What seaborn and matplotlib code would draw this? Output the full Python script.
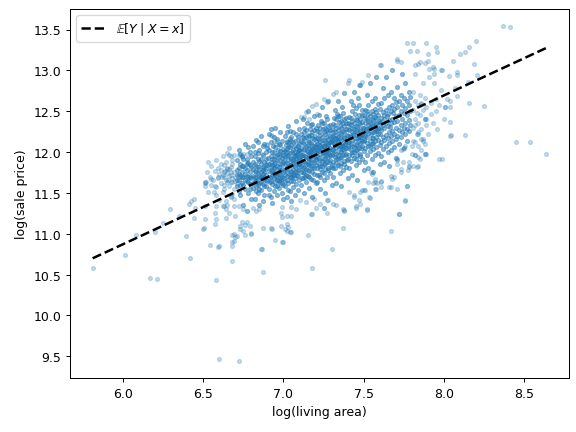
import numpy as np
import pandas as pd
import matplotlib
matplotlib.use("Agg")
import matplotlib.pyplot as plt
from matplotlib.ticker import MultipleLocator
import seaborn as sns

# (log living area, log sale price)
# sparse points around the edge of the cloud
sparse_pairs = [
    (5.81, 10.58), (6.01, 10.74), (6.08, 10.99), (6.17, 10.46), (6.21, 10.45), (6.20, 11.02),
    (6.25, 11.13), (6.29, 11.30), (6.35, 11.22), (6.39, 10.97), (6.42, 10.70), (6.41, 11.37),
    (6.425, 11.405), (6.44, 11.42), (6.45, 11.32), (6.44, 11.19), (6.51, 11.18), (6.50, 11.06),
    (6.505, 11.065), (6.54, 10.86), (6.59, 10.84), (6.595, 10.845), (6.58, 10.44), (6.68, 10.67),
    (6.57, 11.12), (6.58, 11.18), (6.68, 10.99), (6.70, 10.96), (6.71, 10.97), (6.68, 10.90),
    (6.60, 9.47), (6.72, 9.44), (6.86, 10.81), (6.875, 10.53), (6.95, 10.92), (6.99, 10.90),
    (6.995, 10.905), (6.80, 11.01), (6.875, 11.07), (6.92, 11.07), (7.02, 11.04), (7.03, 11.08),
    (7.04, 11.02), (7.15, 10.99), (7.18, 10.58), (7.18, 11.24), (6.76, 11.11), (6.77, 11.15),
    (6.74, 11.14), (6.73, 11.06), (6.70, 11.22), (6.64, 11.19), (6.57, 11.25), (6.63, 11.34),
    (6.51, 11.34), (6.51, 11.63), (6.51, 11.59), (6.565, 11.51), (6.58, 11.34), (6.595, 11.41),
    (6.62, 11.34), (6.55, 11.67), (6.59, 11.68), (6.66, 11.25), (6.64, 11.30), (6.67, 11.63),
    (6.71, 11.61), (6.69, 11.00), (6.76, 10.98), (6.80, 11.00), (6.73, 11.09), (6.75, 11.04),
    (6.79, 11.10), (6.68, 10.85), (6.69, 10.91), (6.81, 11.32), (6.83, 11.28), (6.85, 11.30),
    (6.72, 11.34), (6.75, 11.30), (6.67, 11.46), (6.69, 11.43), (6.69, 11.34), (6.63, 11.55),
    (6.645, 11.63), (6.65, 11.79), (6.66, 11.96), (6.68, 11.86), (6.72, 11.96), (6.75, 11.98),
    (6.90, 12.10), (6.93, 12.20), (6.92, 12.21), (6.90, 12.085), (6.94, 12.14), (6.955, 12.10),
    (6.67, 11.95), (6.74, 11.94), (6.77, 11.98), (6.515, 11.63), (7.02, 12.14), (7.05, 12.14),
    (7.09, 12.16), (6.77, 11.88), (6.865, 11.98), (6.96, 12.14), (7.13, 12.43), (7.16, 12.40),
    (7.21, 12.47), (6.58, 11.57), (6.63, 11.75), (6.645, 11.81),
    (6.51, 11.62), (6.52, 11.75), (6.53, 11.51), (6.54, 11.70), (6.55, 11.83), (6.56, 11.66),
    (6.57, 11.58), (6.57, 11.77), (6.58, 11.90), (6.58, 11.47), (6.59, 11.69), (6.59, 11.81),
    (6.55, 11.60), (6.53, 11.88), (6.60, 11.73),
    (6.61, 11.62), (6.61, 11.78), (6.62, 11.95), (6.62, 11.51), (6.63, 11.70), (6.63, 11.84),
    (6.64, 11.40), (6.64, 11.66), (6.65, 11.74), (6.65, 11.99), (6.66, 11.58), (6.66, 11.71),
    (6.67, 11.82), (6.67, 11.45), (6.68, 11.68), (6.68, 11.90), (6.69, 11.76), (6.69, 11.55),
    (6.62, 11.72), (6.64, 11.88), (6.66, 12.05), (6.68, 11.63), (6.65, 11.35), (6.67, 11.72),
    (6.69, 11.96), (6.63, 11.60), (6.61, 11.86), (6.66, 11.79), (6.68, 11.49), (6.70, 11.70),
    (6.615, 11.70), (6.635, 11.77), (6.655, 11.66), (6.675, 11.76), (6.695, 11.64),
    (7.26, 12.886), (7.325, 12.735), (7.41, 12.886), (7.18, 12.56), (7.095, 12.12),
    (7.60, 13.06), (7.71, 13.12), (7.84, 13.08), (7.53, 12.94), (7.49, 12.86), (7.47, 12.82),
    (7.40, 12.84), (7.31, 12.71), (7.25, 12.65), (7.27, 12.61), (7.20, 12.59), (7.14, 12.49),
    (7.11, 12.43), (7.89, 12.41), (7.84, 12.245), (7.87, 12.14), (7.82, 11.96), (7.745, 12.04),
    (7.78, 11.83), (7.83, 11.815), (7.71, 11.92), (7.73, 11.79), (7.69, 11.69), (7.67, 11.71),
    (7.61, 11.65), (7.57, 11.63), (7.55, 11.73),
    (6.93, 11.06), (6.985, 11.10), (7.02, 11.12), (7.01, 11.06), (7.05, 11.02), (7.30, 10.81),
    (7.37, 11.07), (7.67, 11.03), (6.865, 10.81), (6.99, 11.20), (7.02, 11.22), (7.05, 11.22),
    (6.985, 11.26), (6.99, 11.33), (7.05, 11.325), (7.08, 11.30), (7.105, 11.41), (7.14, 11.39),
    (7.19, 11.43), (7.23, 11.37), (7.25, 11.31), (7.27, 11.41), (7.17, 11.24), (7.31, 11.37),
    (7.37, 11.30), (7.38, 11.28), (7.45, 11.32), (7.47, 11.41), (7.52, 11.30), (7.44, 11.47),
    (7.50, 11.53), (7.535, 11.45), (7.58, 11.55), (7.57, 11.67), (7.61, 11.63), (7.545, 11.75),
    (7.66, 11.57), (7.71, 11.90), (7.71, 11.86), (7.73, 11.75), (7.755, 11.41), (7.77, 11.59),
    (7.72, 11.24), (7.68, 11.67), (7.81, 12.14), (7.84, 12.08), (7.86, 12.16), (7.88, 12.10),
    (7.89, 11.98), (7.84, 11.94), (7.81, 11.83), (7.78, 11.815), (7.90, 12.22), (7.97, 11.915),
    (7.33, 11.35), (7.28, 11.41), (7.20, 11.31), (7.48, 11.36), (7.45, 11.34), (7.44, 11.45),
    (7.38, 11.29), (7.25, 11.31), (7.27, 11.26), (7.41, 11.51), (7.475, 11.51), (7.51, 11.53),
    (7.56, 11.62), (7.585, 11.62), (7.57, 11.545), (7.54, 11.44), (7.52, 11.29), (7.77, 11.58),
    (7.71, 11.545), (7.67, 11.57), (7.755, 11.40), (7.72, 11.24),
    (8.37, 13.545), (8.41, 13.53), (8.64, 11.975), (8.45, 12.12), (8.54, 12.12), (8.25, 12.56),
    (8.16, 12.60), (8.13, 12.21), (8.04, 12.20), (8.045, 12.205), (8.01, 12.55), (8.02, 12.65),
    (8.08, 12.985), (8.08, 12.94), (8.03, 12.93), (8.06, 13.11), (8.10, 13.205), (8.13, 13.22),
    (8.16, 13.29), (8.20, 13.36), (8.19, 13.08), (8.21, 12.94), (8.15, 12.86), (8.07, 12.79),
    (7.99, 13.01), (7.95, 13.29), (7.96, 13.23), (7.89, 13.34), (7.90, 13.205), (7.81, 13.34),
    (7.77, 13.34), (7.79, 13.24), (7.83, 13.24), (8.00, 12.41), (8.04, 12.37), (8.08, 12.69),
    (8.04, 12.63), (7.94, 13.02), (7.94, 12.96), (7.90, 13.12), (7.93, 13.04), (7.71, 13.135),
    (7.73, 13.10), (7.61, 13.07), (7.99, 11.91),
    (7.82, 13.07), (7.85, 13.10), (7.88, 13.095), (7.91, 13.02), (7.985, 13.00), (7.91, 12.92),
    (7.94, 12.84), (7.985, 12.755), (8.005, 12.55), (7.95, 12.65), (7.97, 12.57), (7.92, 12.47),
    (7.86, 12.59), (7.88, 12.41), (7.82, 12.33), (7.84, 12.22), (7.87, 12.16), (7.80, 12.08),
    (7.86, 12.02), (7.82, 11.96), (7.88, 11.98), (7.73, 12.02), (7.78, 11.88), (7.84, 11.83),
    (8.04, 12.55), (7.80, 11.98), (7.85, 11.92), (7.885, 11.98), (7.82, 12.12), (7.755, 12.08),
    (7.745, 11.88), (7.775, 11.775), (7.61, 11.57), (7.525, 11.63), (7.49, 11.53),
    (7.81, 12.30), (7.81, 12.52), (7.81, 12.74), (7.82, 12.40), (7.82, 12.62), (7.82, 12.95),
    (7.83, 12.22), (7.83, 12.48), (7.84, 12.58), (7.84, 12.35), (7.85, 12.70), (7.85, 12.45),
    (7.86, 12.28), (7.86, 12.60), (7.87, 12.52), (7.87, 12.85), (7.88, 12.40), (7.88, 12.66),
    (7.89, 12.55), (7.89, 12.33), (7.92, 12.60), (7.93, 12.36), (7.95, 12.50), (7.96, 12.28),
]

# the dense middle of the cloud, by slices of log living area
dense_pairs = [
    (6.71, 11.72), (6.71, 11.58), (6.71, 11.90), (6.72, 11.66), (6.72, 11.80), (6.72, 12.02),
    (6.73, 11.47), (6.73, 11.71), (6.73, 11.85), (6.74, 11.62), (6.74, 11.76), (6.74, 11.95),
    (6.75, 11.35), (6.75, 11.69), (6.75, 11.83), (6.76, 11.55), (6.76, 11.73), (6.76, 12.10),
    (6.77, 11.64), (6.77, 11.78), (6.77, 11.92), (6.78, 11.50), (6.78, 11.70), (6.78, 11.87),
    (6.79, 11.61), (6.79, 11.75), (6.79, 12.00), (6.80, 11.42), (6.80, 11.68), (6.80, 11.82),
    (6.71, 11.78), (6.72, 11.52), (6.73, 11.98), (6.74, 11.70), (6.75, 11.60), (6.75, 11.91),
    (6.76, 11.80), (6.77, 11.71), (6.77, 11.28), (6.78, 11.63), (6.78, 12.06), (6.79, 11.70),
    (6.79, 11.84), (6.74, 11.83), (6.72, 11.73), (6.76, 11.66), (6.73, 11.60), (6.79, 11.55),
    (6.71, 11.66), (6.77, 11.86),
    (6.81, 11.71), (6.81, 11.56), (6.81, 11.88), (6.81, 12.08), (6.82, 11.64), (6.82, 11.77),
    (6.82, 11.95), (6.82, 11.43), (6.83, 11.70), (6.83, 11.83), (6.83, 12.15), (6.83, 11.59),
    (6.84, 11.50), (6.84, 11.74), (6.84, 11.91), (6.84, 11.66), (6.85, 11.62), (6.85, 11.79),
    (6.85, 12.02), (6.85, 11.35), (6.86, 11.69), (6.86, 11.85), (6.86, 11.54), (6.86, 12.20),
    (6.87, 11.73), (6.87, 11.61), (6.87, 11.96), (6.87, 11.82), (6.88, 11.47), (6.88, 11.67),
    (6.88, 11.88), (6.88, 12.10), (6.89, 11.72), (6.89, 11.58), (6.89, 11.80), (6.89, 12.00),
    (6.81, 11.79), (6.82, 11.70), (6.83, 11.64), (6.84, 11.99), (6.85, 11.71), (6.86, 11.76),
    (6.87, 11.68), (6.88, 11.75), (6.89, 11.92), (6.90, 11.65), (6.90, 11.84), (6.90, 12.05),
    (6.82, 11.86), (6.84, 11.82), (6.86, 11.63), (6.88, 11.59), (6.83, 11.52), (6.85, 11.89),
    (6.87, 12.07), (6.89, 11.66), (6.81, 11.62), (6.84, 12.12), (6.86, 11.92), (6.88, 11.81),
    (6.85, 11.55), (6.87, 11.40), (6.83, 11.75), (6.89, 11.86), (6.82, 12.00), (6.86, 11.70),
    (6.88, 11.69), (6.84, 11.60), (6.80, 11.95), (6.87, 11.78),
    (6.91, 11.70), (6.91, 11.55), (6.91, 11.86), (6.91, 12.03), (6.91, 12.22), (6.92, 11.64),
    (6.92, 11.78), (6.92, 11.95), (6.92, 11.45), (6.92, 12.12), (6.93, 11.72), (6.93, 11.61),
    (6.93, 11.84), (6.93, 12.00), (6.93, 11.38), (6.94, 11.68), (6.94, 11.80), (6.94, 11.91),
    (6.94, 12.18), (6.94, 11.52), (6.95, 11.74), (6.95, 11.63), (6.95, 11.87), (6.95, 12.06),
    (6.95, 12.30), (6.96, 11.58), (6.96, 11.71), (6.96, 11.83), (6.96, 11.97), (6.96, 11.47),
    (6.97, 11.66), (6.97, 11.77), (6.97, 11.90), (6.97, 12.10), (6.97, 11.56), (6.98, 11.72),
    (6.98, 11.85), (6.98, 12.01), (6.98, 11.62), (6.98, 12.25), (6.99, 11.69), (6.99, 11.79),
    (6.99, 11.93), (6.99, 12.14), (6.99, 11.50), (7.00, 11.75), (7.00, 11.88), (7.00, 12.04),
    (7.00, 11.60), (7.00, 11.42), (6.91, 11.77), (6.92, 11.70), (6.93, 11.92), (6.94, 11.74),
    (6.95, 11.81), (6.96, 11.66), (6.97, 11.98), (6.98, 11.78), (6.99, 11.86), (7.00, 11.68),
    (6.915, 11.63), (6.925, 11.88), (6.935, 12.07), (6.945, 11.59), (6.955, 11.69), (6.965, 12.02),
    (6.975, 11.82), (6.985, 11.67), (6.995, 12.00), (6.905, 11.93), (6.92, 12.28), (6.94, 12.00),
    (6.96, 11.90), (6.98, 11.95), (6.93, 11.76), (6.95, 11.95), (6.97, 11.73), (6.99, 11.62),
    (6.91, 11.48), (6.96, 12.16), (6.94, 11.85), (6.98, 12.09), (6.92, 11.82), (7.00, 11.96),
    (6.97, 11.64),
    (7.01, 11.72), (7.01, 11.86), (7.01, 12.01), (7.01, 11.58), (7.01, 12.20), (7.02, 11.66),
    (7.02, 11.80), (7.02, 11.95), (7.02, 12.12), (7.02, 11.45), (7.03, 11.74), (7.03, 11.90),
    (7.03, 12.06), (7.03, 11.62), (7.03, 12.32), (7.04, 11.70), (7.04, 11.84), (7.04, 11.99),
    (7.04, 12.16), (7.04, 11.52), (7.05, 11.77), (7.05, 11.93), (7.05, 12.09), (7.05, 11.64),
    (7.05, 11.40), (7.06, 11.73), (7.06, 11.87), (7.06, 12.03), (7.06, 12.24), (7.06, 11.57),
    (7.07, 11.68), (7.07, 11.82), (7.07, 11.97), (7.07, 12.13), (7.07, 11.48), (7.08, 11.75),
    (7.08, 11.91), (7.08, 12.05), (7.08, 11.61), (7.08, 12.38), (7.09, 11.71), (7.09, 11.85),
    (7.09, 12.00), (7.09, 12.18), (7.09, 11.54), (7.10, 11.79), (7.10, 11.94), (7.10, 12.10),
    (7.10, 11.66), (7.10, 12.28), (7.015, 11.79), (7.025, 12.04), (7.035, 11.83), (7.045, 11.92),
    (7.055, 12.00), (7.065, 11.95), (7.075, 11.89), (7.085, 11.98), (7.095, 11.92), (7.005, 11.90),
    (7.02, 11.87), (7.04, 12.06), (7.06, 11.79), (7.08, 11.84), (7.03, 11.97), (7.05, 11.85),
    (7.07, 12.07), (7.09, 12.08), (7.01, 11.65), (7.06, 11.65), (7.04, 11.76), (7.08, 12.22),
    (7.02, 12.24), (7.10, 11.86), (7.03, 11.53), (7.05, 12.18), (7.07, 11.75), (7.09, 11.78),
    (7.01, 11.95), (7.06, 12.12), (7.045, 11.69), (7.085, 11.72), (7.025, 11.71), (7.065, 11.72),
    (7.095, 12.02), (7.035, 12.12), (7.075, 12.00), (7.055, 11.71), (7.015, 12.09), (7.005, 11.77),
    (7.04, 12.26), (7.08, 11.95), (7.02, 12.00), (7.06, 11.90), (7.10, 12.02),
    (7.11, 11.76), (7.11, 11.90), (7.11, 12.05), (7.11, 12.22), (7.11, 11.60), (7.12, 11.82),
    (7.12, 11.97), (7.12, 12.12), (7.12, 11.68), (7.12, 12.40), (7.13, 11.74), (7.13, 11.88),
    (7.13, 12.02), (7.13, 12.17), (7.13, 11.50), (7.14, 11.79), (7.14, 11.94), (7.14, 12.08),
    (7.14, 12.27), (7.14, 11.63), (7.15, 11.85), (7.15, 12.00), (7.15, 12.14), (7.15, 11.71),
    (7.15, 12.50), (7.16, 11.77), (7.16, 11.91), (7.16, 12.05), (7.16, 12.20), (7.16, 11.56),
    (7.17, 11.83), (7.17, 11.98), (7.17, 12.11), (7.17, 11.67), (7.17, 12.33), (7.18, 11.80),
    (7.18, 11.95), (7.18, 12.09), (7.18, 12.25), (7.18, 11.45), (7.19, 11.87), (7.19, 12.01),
    (7.19, 12.16), (7.19, 11.73), (7.19, 12.44), (7.20, 11.84), (7.20, 11.99), (7.20, 12.13),
    (7.20, 11.62), (7.20, 12.30), (7.115, 11.97), (7.125, 12.04), (7.135, 11.95), (7.145, 12.01),
    (7.155, 11.93), (7.165, 11.99), (7.175, 12.04), (7.185, 12.02), (7.195, 11.94), (7.105, 12.00),
    (7.12, 11.89), (7.14, 11.86), (7.16, 12.12), (7.18, 12.17), (7.13, 12.10), (7.15, 12.07),
    (7.17, 11.90), (7.19, 12.08), (7.11, 12.13), (7.16, 11.84), (7.14, 12.18), (7.18, 11.88),
    (7.12, 11.75), (7.20, 12.06), (7.13, 11.81), (7.15, 11.78), (7.17, 12.21), (7.19, 11.80),
    (7.11, 11.83), (7.16, 11.70), (7.145, 12.36), (7.185, 11.66), (7.125, 12.25), (7.165, 12.28),
    (7.195, 12.20), (7.135, 11.70), (7.175, 11.76), (7.155, 12.21), (7.115, 11.68), (7.105, 11.86),
    (7.14, 11.72), (7.18, 12.34), (7.12, 12.18), (7.16, 11.98), (7.20, 11.92), (7.13, 12.30),
    (7.17, 12.03), (7.15, 11.88), (7.19, 12.27), (7.11, 11.95),
    (7.21, 11.80), (7.21, 11.95), (7.21, 12.10), (7.21, 12.26), (7.21, 11.63), (7.22, 11.86),
    (7.22, 12.01), (7.22, 12.16), (7.22, 11.72), (7.22, 12.45), (7.23, 11.83), (7.23, 11.98),
    (7.23, 12.13), (7.23, 12.30), (7.23, 11.55), (7.24, 11.89), (7.24, 12.04), (7.24, 12.19),
    (7.24, 11.76), (7.24, 12.55), (7.25, 11.85), (7.25, 12.00), (7.25, 12.15), (7.25, 12.35),
    (7.25, 11.66), (7.26, 11.92), (7.26, 12.07), (7.26, 12.22), (7.26, 11.79), (7.26, 11.50),
    (7.27, 11.88), (7.27, 12.03), (7.27, 12.18), (7.27, 12.40), (7.27, 11.70), (7.28, 11.94),
    (7.28, 12.09), (7.28, 12.24), (7.28, 11.81), (7.28, 12.62), (7.29, 11.90), (7.29, 12.05),
    (7.29, 12.20), (7.29, 11.74), (7.29, 12.33), (7.30, 11.97), (7.30, 12.12), (7.30, 12.28),
    (7.30, 11.84), (7.30, 11.60), (7.215, 12.03), (7.225, 12.07), (7.235, 12.05), (7.245, 11.97),
    (7.255, 12.08), (7.265, 12.00), (7.275, 12.10), (7.285, 12.02), (7.295, 12.13), (7.205, 11.90),
    (7.22, 11.93), (7.24, 12.11), (7.26, 11.86), (7.28, 12.16), (7.23, 12.21), (7.25, 11.92),
    (7.27, 12.27), (7.29, 11.97), (7.21, 12.17), (7.26, 12.14), (7.24, 11.83), (7.28, 12.00),
    (7.22, 12.25), (7.30, 12.04), (7.23, 11.90), (7.25, 12.24), (7.27, 11.96), (7.29, 12.27),
    (7.21, 11.72), (7.26, 12.30), (7.245, 12.28), (7.285, 11.88), (7.225, 11.79), (7.265, 12.44),
    (7.295, 11.82), (7.235, 12.38), (7.275, 11.78), (7.255, 11.74), (7.215, 12.33), (7.205, 12.08),
    (7.24, 12.36), (7.28, 12.32), (7.22, 12.09), (7.26, 11.98), (7.30, 12.20), (7.23, 11.70),
    (7.27, 12.11), (7.25, 12.07), (7.29, 12.12), (7.21, 12.02),
    (7.31, 11.88), (7.31, 12.03), (7.31, 12.18), (7.31, 12.34), (7.31, 11.70), (7.32, 11.94),
    (7.32, 12.09), (7.32, 12.24), (7.32, 11.80), (7.32, 12.52), (7.33, 11.91), (7.33, 12.06),
    (7.33, 12.21), (7.33, 12.40), (7.33, 11.62), (7.34, 11.97), (7.34, 12.12), (7.34, 12.27),
    (7.34, 11.84), (7.34, 12.63), (7.35, 11.93), (7.35, 12.08), (7.35, 12.23), (7.35, 12.44),
    (7.35, 11.74), (7.36, 12.00), (7.36, 12.15), (7.36, 12.30), (7.36, 11.87), (7.36, 11.58),
    (7.37, 11.96), (7.37, 12.11), (7.37, 12.26), (7.37, 12.48), (7.37, 11.78), (7.38, 12.02),
    (7.38, 12.17), (7.38, 12.32), (7.38, 11.89), (7.38, 12.72), (7.39, 11.98), (7.39, 12.13),
    (7.39, 12.28), (7.39, 11.82), (7.39, 12.42), (7.40, 12.05), (7.40, 12.20), (7.40, 12.36),
    (7.40, 11.92), (7.40, 11.68), (7.315, 12.11), (7.325, 12.16), (7.335, 12.13), (7.345, 12.05),
    (7.355, 12.17), (7.365, 12.08), (7.375, 12.19), (7.385, 12.10), (7.395, 12.21), (7.305, 11.98),
    (7.32, 12.01), (7.34, 12.19), (7.36, 11.94), (7.38, 12.25), (7.33, 12.29), (7.35, 12.00),
    (7.37, 12.36), (7.39, 12.05), (7.31, 12.25), (7.36, 12.22), (7.34, 11.91), (7.38, 12.09),
    (7.32, 12.33), (7.40, 12.12), (7.33, 11.98), (7.35, 12.32), (7.37, 12.04), (7.39, 12.36),
    (7.31, 11.80), (7.36, 12.38), (7.345, 12.37), (7.385, 11.96), (7.325, 11.87), (7.365, 12.55),
    (7.395, 11.90), (7.335, 12.47), (7.375, 11.86), (7.355, 11.83), (7.315, 12.42), (7.305, 12.15),
    (7.34, 12.44), (7.38, 12.40), (7.32, 12.17), (7.36, 12.06), (7.40, 12.28),
    (7.41, 11.97), (7.41, 12.12), (7.41, 12.27), (7.41, 12.43), (7.41, 11.80), (7.42, 12.03),
    (7.42, 12.18), (7.42, 12.33), (7.42, 11.89), (7.42, 12.62), (7.43, 12.00), (7.43, 12.15),
    (7.43, 12.30), (7.43, 12.50), (7.43, 11.72), (7.44, 12.06), (7.44, 12.21), (7.44, 12.36),
    (7.44, 11.93), (7.44, 12.74), (7.45, 12.02), (7.45, 12.17), (7.45, 12.32), (7.45, 12.54),
    (7.45, 11.84), (7.46, 12.09), (7.46, 12.24), (7.46, 12.39), (7.46, 11.96), (7.46, 11.66),
    (7.47, 12.05), (7.47, 12.20), (7.47, 12.35), (7.47, 12.58), (7.47, 11.88), (7.48, 12.11),
    (7.48, 12.26), (7.48, 12.41), (7.48, 11.98), (7.48, 12.82), (7.49, 12.07), (7.49, 12.22),
    (7.49, 12.37), (7.49, 11.91), (7.49, 12.51), (7.50, 12.14), (7.50, 12.29), (7.50, 12.45),
    (7.50, 12.01), (7.50, 11.78), (7.415, 12.20), (7.425, 12.25), (7.435, 12.22), (7.445, 12.14),
    (7.455, 12.26), (7.465, 12.17), (7.475, 12.28), (7.485, 12.19), (7.495, 12.30), (7.405, 12.07),
    (7.42, 12.10), (7.44, 12.28), (7.46, 12.03), (7.48, 12.34), (7.43, 12.38), (7.45, 12.09),
    (7.47, 12.45), (7.49, 12.14), (7.41, 12.34), (7.46, 12.31), (7.44, 12.00), (7.48, 12.18),
    (7.42, 12.42), (7.50, 12.21), (7.43, 12.07), (7.45, 12.41), (7.47, 12.13), (7.49, 12.45),
    (7.445, 12.47), (7.485, 12.05), (7.425, 11.97), (7.465, 12.66), (7.435, 12.57), (7.475, 11.95),
    (7.455, 11.92),
    (7.51, 12.05), (7.51, 12.20), (7.51, 12.35), (7.51, 12.52), (7.51, 11.88), (7.52, 12.11),
    (7.52, 12.26), (7.52, 12.41), (7.52, 11.97), (7.52, 12.70), (7.53, 12.08), (7.53, 12.23),
    (7.53, 12.38), (7.53, 12.58), (7.53, 11.80), (7.54, 12.14), (7.54, 12.29), (7.54, 12.44),
    (7.54, 12.01), (7.54, 12.84), (7.55, 12.10), (7.55, 12.25), (7.55, 12.40), (7.55, 12.62),
    (7.55, 11.92), (7.56, 12.17), (7.56, 12.32), (7.56, 12.47), (7.56, 12.04), (7.56, 11.75),
    (7.57, 12.13), (7.57, 12.28), (7.57, 12.43), (7.57, 12.66), (7.57, 11.96), (7.58, 12.19),
    (7.58, 12.34), (7.58, 12.49), (7.58, 12.06), (7.58, 12.92), (7.59, 12.15), (7.59, 12.30),
    (7.59, 12.45), (7.59, 11.99), (7.59, 12.59), (7.60, 12.22), (7.60, 12.37), (7.60, 12.53),
    (7.60, 12.09), (7.60, 11.86), (7.515, 12.28), (7.525, 12.33), (7.535, 12.30), (7.545, 12.22),
    (7.555, 12.34), (7.565, 12.25), (7.575, 12.36), (7.585, 12.27), (7.595, 12.38), (7.505, 12.15),
    (7.52, 12.18), (7.54, 12.36), (7.56, 12.11), (7.58, 12.42), (7.53, 12.46), (7.55, 12.17),
    (7.57, 12.53), (7.59, 12.22), (7.51, 12.42), (7.56, 12.39), (7.54, 12.08), (7.58, 12.26),
    (7.52, 12.50), (7.60, 12.29), (7.55, 12.50),
    (7.61, 12.12), (7.61, 12.27), (7.61, 12.42), (7.61, 12.60), (7.61, 11.95), (7.62, 12.18),
    (7.62, 12.33), (7.62, 12.49), (7.62, 12.04), (7.62, 12.78), (7.63, 12.15), (7.63, 12.30),
    (7.63, 12.45), (7.63, 12.66), (7.63, 11.88), (7.64, 12.21), (7.64, 12.36), (7.64, 12.52),
    (7.64, 12.08), (7.64, 12.92), (7.65, 12.17), (7.65, 12.32), (7.65, 12.47), (7.65, 12.70),
    (7.65, 12.00), (7.66, 12.24), (7.66, 12.39), (7.66, 12.55), (7.66, 12.11), (7.66, 11.83),
    (7.67, 12.20), (7.67, 12.35), (7.67, 12.50), (7.67, 12.74), (7.67, 12.03), (7.68, 12.26),
    (7.68, 12.41), (7.68, 12.57), (7.68, 12.13), (7.68, 13.00), (7.69, 12.22), (7.69, 12.37),
    (7.69, 12.53), (7.69, 12.06), (7.69, 12.66), (7.70, 12.29), (7.70, 12.44), (7.70, 12.61),
    (7.70, 12.16), (7.70, 11.93), (7.625, 12.40), (7.645, 12.44), (7.665, 12.31), (7.685, 12.48),
    (7.605, 12.36),
    (7.71, 12.20), (7.71, 12.38), (7.71, 12.55), (7.71, 12.80), (7.72, 12.27), (7.72, 12.45),
    (7.72, 12.62), (7.72, 12.10), (7.73, 12.33), (7.73, 12.50), (7.73, 12.70), (7.73, 12.18),
    (7.74, 12.24), (7.74, 12.41), (7.74, 12.58), (7.74, 12.95), (7.75, 12.30), (7.75, 12.48),
    (7.75, 12.66), (7.75, 12.05), (7.76, 12.36), (7.76, 12.54), (7.76, 12.22), (7.76, 12.85),
    (7.77, 12.28), (7.77, 12.45), (7.77, 12.62), (7.77, 12.14), (7.78, 12.39), (7.78, 12.57),
    (7.78, 12.74), (7.78, 12.26), (7.79, 12.33), (7.79, 12.50), (7.79, 12.68),
]

# endpoints of the fitted line E[Y | X = x]
line_x = [5.81, 8.64]
line_y = [10.70, 13.275]

sparse = pd.DataFrame(sparse_pairs, columns=["log_area", "log_price"])
dense = pd.DataFrame(dense_pairs, columns=["log_area", "log_price"])

fig, ax = plt.subplots(figsize=(6.4, 4.81), dpi=90)
fig.subplots_adjust(left=0.1215, right=0.988, top=0.977, bottom=0.1247)

blue = "#1f77b4"
sns.scatterplot(data=sparse, x="log_area", y="log_price", ax=ax, s=10,
                color=blue, edgecolor=blue, linewidth=1, alpha=0.25)
sns.scatterplot(data=dense, x="log_area", y="log_price", ax=ax, s=10,
                color=blue, edgecolor=blue, linewidth=1, alpha=0.48)

sns.lineplot(x=line_x, y=line_y, ax=ax, color="k", linestyle="--", linewidth=2,
             label=r"$\mathbb{E}[Y \mid X = x]$")

ax.xaxis.set_major_locator(MultipleLocator(0.5))
ax.yaxis.set_major_locator(MultipleLocator(0.5))
ax.set_xlabel("log(living area)")
ax.set_ylabel("log(sale price)")
ax.legend(loc="upper left")

fig.savefig("out.png", dpi=90)
